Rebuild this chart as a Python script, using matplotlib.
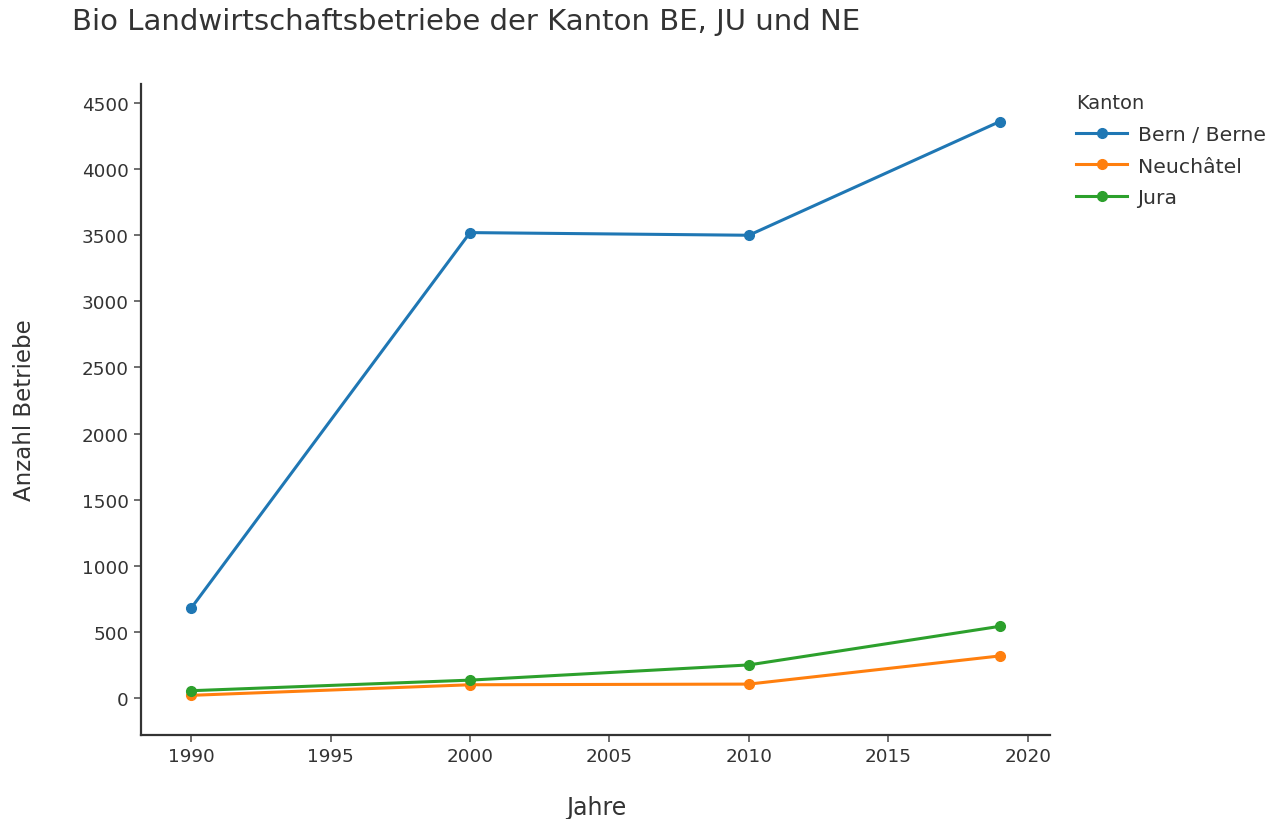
import matplotlib
matplotlib.use("Agg")
import matplotlib.pyplot as plt

years = [1990, 2000, 2010, 2019]
kantone = ["Bern / Berne", "Neuchâtel", "Jura"]
bern = [680, 3520, 3500, 4360]
neuchatel = [20, 100, 105, 318]
jura = [55, 135, 250, 542]
series = [bern, neuchatel, jura]
colors = ["#1f77b4", "#ff7f0e", "#2ca02c"]
yticks = [0, 500, 1000, 1500, 2000, 2500, 3000, 3500, 4000, 4500]
xticks = [1990, 1995, 2000, 2005, 2010, 2015, 2020]

plt.rcParams['font.family'] = ['DejaVu Sans']
W, H = 1270, 820
fig = plt.figure(figsize=(W/100, H/100), dpi=100)
ax = fig.add_axes([141/W, 1-736/H, (1050-141)/W, (736-85)/H])

for name, vals, c in zip(kantone, series, colors):
    ax.plot(years, vals, color=c, lw=2.2, marker='o', ms=7, label=name)

ax.set_xlim(1988.2, 2020.8)
ax.set_ylim(-280, 4644)
ax.set_xticks(xticks)
ax.set_yticks(yticks)
for s in ['top', 'right']:
    ax.spines[s].set_visible(False)
for s in ['left', 'bottom']:
    ax.spines[s].set_color('#333333')
    ax.spines[s].set_linewidth(1.6)
ax.tick_params(axis='both', direction='out', length=5, width=1.2, color='#555555',
               labelsize=13.2, labelcolor='#333333', pad=4)

fig.text(72/W, 1-22/H, "Bio Landwirtschaftsbetriebe der Kanton BE, JU und NE",
         fontsize=21, color='#333333', ha='left', va='center')
fig.text(25/W, 1-410/H, "Anzahl Betriebe", rotation=90, fontsize=16.5,
         color='#333333', ha='center', va='center')
fig.text(596/W, 1-808/H, "Jahre", fontsize=17, color='#333333',
         ha='center', va='center')

leg = ax.legend(title="Kanton", loc='upper left', bbox_to_anchor=(1062/W, 1-80/H),
                bbox_transform=fig.transFigure, frameon=False, fontsize=14.7,
                title_fontsize=14, handlelength=2.5, handletextpad=0.5,
                labelspacing=0.62, alignment='left', borderpad=0.2)
for t in leg.get_texts():
    t.set_color('#333333')
leg.get_title().set_color('#333333')

fig.savefig("out.png", dpi=100, facecolor='white')
